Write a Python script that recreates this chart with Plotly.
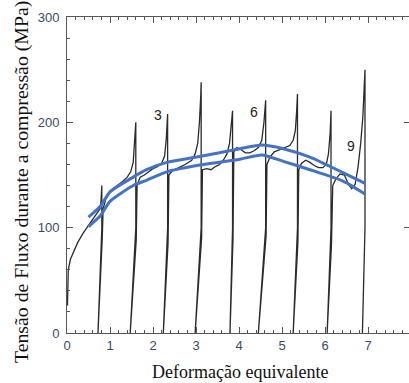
import plotly.graph_objects as go

# Spike (end of pass) data
spike_x = [0.81, 1.60, 2.34, 3.12, 3.85, 4.62, 5.36, 6.14, 6.93]
spike_y = [140, 200, 208, 238, 211, 221, 227, 211, 250]
drop_x = [0.72, 1.47, 2.24, 2.98, 3.79, 4.45, 5.26, 6.05, 6.87]
reload_y = [90, 88, 85, 90, 88, 92, 86, 83]

# Flow curve segments for each pass
flow_x = [
    [0.01, 0.03, 0.08, 0.15, 0.25, 0.38, 0.53, 0.65, 0.73, 0.77, 0.79],
    [0.84, 0.9, 1.0, 1.1, 1.2, 1.3, 1.4, 1.48, 1.54, 1.58],
    [1.63, 1.7, 1.8, 1.9, 2.0, 2.1, 2.2, 2.27, 2.31],
    [2.37, 2.45, 2.6, 2.75, 2.9, 2.98, 3.04, 3.08, 3.11],
    [3.15, 3.25, 3.35, 3.45, 3.55, 3.65, 3.72, 3.78, 3.82],
    [3.88, 3.95, 4.05, 4.15, 4.25, 4.35, 4.45, 4.53, 4.58],
    [4.65, 4.72, 4.82, 4.95, 5.08, 5.18, 5.26, 5.31, 5.34],
    [5.39, 5.45, 5.55, 5.65, 5.75, 5.85, 5.95, 6.03, 6.08, 6.12],
    [6.18, 6.25, 6.35, 6.45, 6.55, 6.62, 6.7, 6.77, 6.83, 6.88, 6.91],
]
flow_y = [
    [26, 60, 70, 77, 86, 95, 104, 110, 115, 118, 125],
    [118, 127, 134, 138, 141, 144, 148, 153, 162, 182],
    [140, 148, 150, 153, 156, 158, 161, 168, 185],
    [150, 154, 157, 160, 164, 170, 180, 200, 225],
    [155, 156, 155, 158, 160, 165, 170, 180, 195],
    [172, 176, 174, 171, 171, 173, 176, 183, 200],
    [160, 167, 172, 174, 176, 178, 183, 192, 210],
    [155, 161, 164, 162, 159, 157, 157, 160, 170, 190],
    [140, 146, 151, 150, 141, 137, 141, 158, 180, 205, 230],
]

# Blue fitted curves
upper_x = [0.5, 0.77, 1.0, 1.54, 1.85, 2.32, 3.02, 4.02, 4.53, 5.03, 5.65, 6.43, 6.93]
upper_y = [110, 120, 134, 148, 155, 162, 167, 175, 178.5, 175, 167, 152, 142]
lower_x = [0.5, 0.77, 1.0, 1.54, 1.85, 2.32, 3.02, 4.02, 4.53, 5.03, 5.65, 6.43, 6.93]
lower_y = [101, 111, 125, 140, 145, 153, 159, 165, 169, 163, 155, 144, 132]

labels_text = ["3", "6", "9"]
labels_x = [2.12, 4.35, 6.6]
labels_y = [207, 210, 178]

# Build black curve
bx, by = [], []
for i in range(len(spike_x)):
    bx += flow_x[i]
    by += flow_y[i]
    bx += [spike_x[i], spike_x[i], drop_x[i]]
    by += [spike_y[i], 100, 0]
    if i < len(reload_y):
        bx += [spike_x[i] + 0.01]
        by += [reload_y[i]]

fig = go.Figure()
fig.add_trace(go.Scatter(x=bx, y=by, mode="lines",
                         line=dict(color="#2b2b2b", width=1.3), hoverinfo="skip"))
fig.add_trace(go.Scatter(x=upper_x, y=upper_y, mode="lines",
                         line=dict(color="#4472c4", width=3, shape="spline", smoothing=0.6)))
fig.add_trace(go.Scatter(x=lower_x, y=lower_y, mode="lines",
                         line=dict(color="#4472c4", width=3, shape="spline", smoothing=0.6)))
fig.add_trace(go.Scatter(x=[1], y=[1], yaxis="y2", mode="markers",
                         marker=dict(opacity=0), hoverinfo="skip"))

for t, x, y in zip(labels_text, labels_x, labels_y):
    fig.add_annotation(x=x, y=y, text=t, showarrow=False,
                       font=dict(family="Liberation Sans", size=14, color="#222"))

fig.add_annotation(xref="paper", yref="paper", x=-67 / 342 + 21 / 342, y=(333 - 182) / 316,
                   text="Tensão de Fluxo durante a compressão (MPa)", textangle=-90,
                   showarrow=False, xanchor="center", yanchor="middle",
                   font=dict(family="Liberation Serif", size=19.8, color="#111"))
fig.add_annotation(xref="paper", yref="paper", x=(240 - 67) / 342, y=(333 - 372) / 316,
                   text="Deformação equivalente", showarrow=False,
                   xanchor="center", yanchor="middle",
                   font=dict(family="Liberation Serif", size=18, color="#111"))

tickfont = dict(family="Liberation Sans", size=13, color="#3b4a68")
fig.update_layout(
    width=409, height=383,
    margin=dict(l=67, r=0, t=17, b=50),
    paper_bgcolor="white", plot_bgcolor="white",
    showlegend=False,
    xaxis=dict(range=[0, 342 / 43], tickvals=[0, 1, 2, 3, 4, 5, 6, 7],
               ticks="inside", ticklen=6, tickcolor="#555", showline=True,
               linecolor="#555", linewidth=1, mirror="ticks", showgrid=False,
               zeroline=False, tickfont=tickfont,
               minor=dict(dtick=0.2, ticks="inside", ticklen=3, tickcolor="#555")),
    yaxis=dict(range=[0, 300], tickvals=[0, 100, 200, 300],
               ticks="inside", ticklen=6, tickcolor="#555", showline=True,
               linecolor="#555", linewidth=1, mirror=False, showgrid=False,
               zeroline=False, tickfont=tickfont, ticklabelstandoff=4,
               minor=dict(dtick=20, ticks="inside", ticklen=3, tickcolor="#555")),
    yaxis2=dict(range=[0, 300], overlaying="y", side="right", tickvals=[100, 200],
                ticks="inside", ticklen=5, tickcolor="#555", showline=False,
                showticklabels=False, showgrid=False, zeroline=False),
)

fig.write_html("out.html")
